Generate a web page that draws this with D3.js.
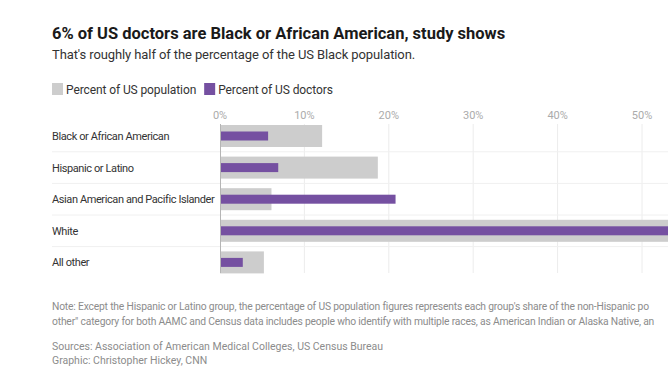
<!DOCTYPE html>
<html><head><meta charset="utf-8">
<script src="https://cdn.jsdelivr.net/npm/d3@7"></script>
<style>
html,body{margin:0;padding:0;background:#fff;overflow:hidden;}
svg{display:block;font-family:Roboto,"Liberation Sans",Arial,sans-serif;}
</style></head>
<body>
<svg id="chart" width="668" height="376"></svg>
<script>
const categories = ["Black or African American","Hispanic or Latino","Asian American and Pacific Islander","White","All other"];
const populationPct = [12.1, 18.7, 6.1, 60.1, 5.2];
const doctorsPct = [5.7, 6.9, 20.8, 56.2, 2.7];
const tickValues = [0,10,20,30,40,50];
const tickLabels = ["0%","10%","20%","30%","40%","50%"];
const legendLabels = ["Percent of US population","Percent of US doctors"];

const svg = d3.select("#chart");
const colPop = "#cdcdcd", colDoc = "#7550a1";

svg.append("text").attr("x",52).attr("y",39).attr("font-size",16.5).attr("font-weight",700).attr("fill","#1a1a1a")
  .text("6% of US doctors are Black or African American, study shows");
svg.append("text").attr("x",52).attr("y",59).attr("font-size",13).attr("fill","#333").attr("letter-spacing",-0.1)
  .text("That's roughly half of the percentage of the US Black population.");

// legend
const lg = svg.append("g");
let lx = 52;
legendLabels.forEach((l,i)=>{
  lg.append("rect").attr("x",lx).attr("y",83).attr("width",11).attr("height",12).attr("fill",i?colDoc:colPop);
  const t = lg.append("text").attr("x",lx+14).attr("y",93.5).attr("font-size",12).attr("letter-spacing",-0.1).attr("fill","#333").text(l);
  lx += 14 + t.node().getComputedTextLength() + 8;
});

const x = d3.scaleLinear().domain([0,60]).range([220, 220+6*84.4]);
const y = d3.scaleBand().domain(categories).range([120.2, 278.2]).paddingInner(0).paddingOuter(0);
const bw = y.bandwidth();

// gridlines
svg.append("g").selectAll("line").data(tickValues.slice(1)).join("line")
  .attr("x1",d=>x(d)).attr("x2",d=>x(d)).attr("y1",124).attr("y2",273)
  .attr("stroke","#ececec").attr("stroke-width",1);

// separators
svg.append("g").selectAll("line").data(categories.slice(1)).join("line")
  .attr("x1",52).attr("x2",668).attr("y1",d=>y(d)).attr("y2",d=>y(d))
  .attr("stroke","#f0f0f0").attr("stroke-width",1);

// tick labels
svg.append("g").selectAll("text").data(tickValues).join("text")
  .attr("x",d=>x(d)).attr("y",119).attr("text-anchor","middle").attr("font-size",11).attr("fill","#ababab")
  .text((d,i)=>tickLabels[i]);

// bars
const pH = 22, dH = 9;
svg.append("g").selectAll("rect").data(categories).join("rect")
  .attr("x",x(0)).attr("y",d=>y(d)+bw/2-pH/2).attr("height",pH)
  .attr("width",(d,i)=>x(populationPct[i])-x(0)).attr("fill",colPop);
svg.append("g").selectAll("rect").data(categories).join("rect")
  .attr("x",x(0)).attr("y",d=>y(d)+bw/2-dH/2).attr("height",dH)
  .attr("width",(d,i)=>x(doctorsPct[i])-x(0)).attr("fill",colDoc);

// zero axis line
svg.append("line").attr("x1",x(0)+0.5).attr("x2",x(0)+0.5).attr("y1",124).attr("y2",273).attr("stroke","#b5b5b5");

// category labels
svg.append("g").selectAll("text").data(categories).join("text")
  .attr("x",52).attr("y",d=>y(d)+bw/2+4).attr("font-size",11).attr("letter-spacing",-0.4).attr("fill","#333").text(d=>d);

// notes
const note = svg.append("g").attr("font-size",10.5).attr("fill","#8c8c8c");
note.append("text").attr("x",52).attr("y",310).attr("font-size",10.3).attr("letter-spacing",-0.18).text("Note: Except the Hispanic or Latino group, the percentage of US population figures represents each group's share of the non-Hispanic po");
note.append("text").attr("x",52).attr("y",325).attr("font-size",10.3).attr("letter-spacing",-0.18).text("other\" category for both AAMC and Census data includes people who identify with multiple races, as American Indian or Alaska Native, an");
note.append("text").attr("x",52).attr("y",350).text("Sources: Association of American Medical Colleges, US Census Bureau");
note.append("text").attr("x",52).attr("y",364).text("Graphic: Christopher Hickey, CNN");
</script>
</body></html>
